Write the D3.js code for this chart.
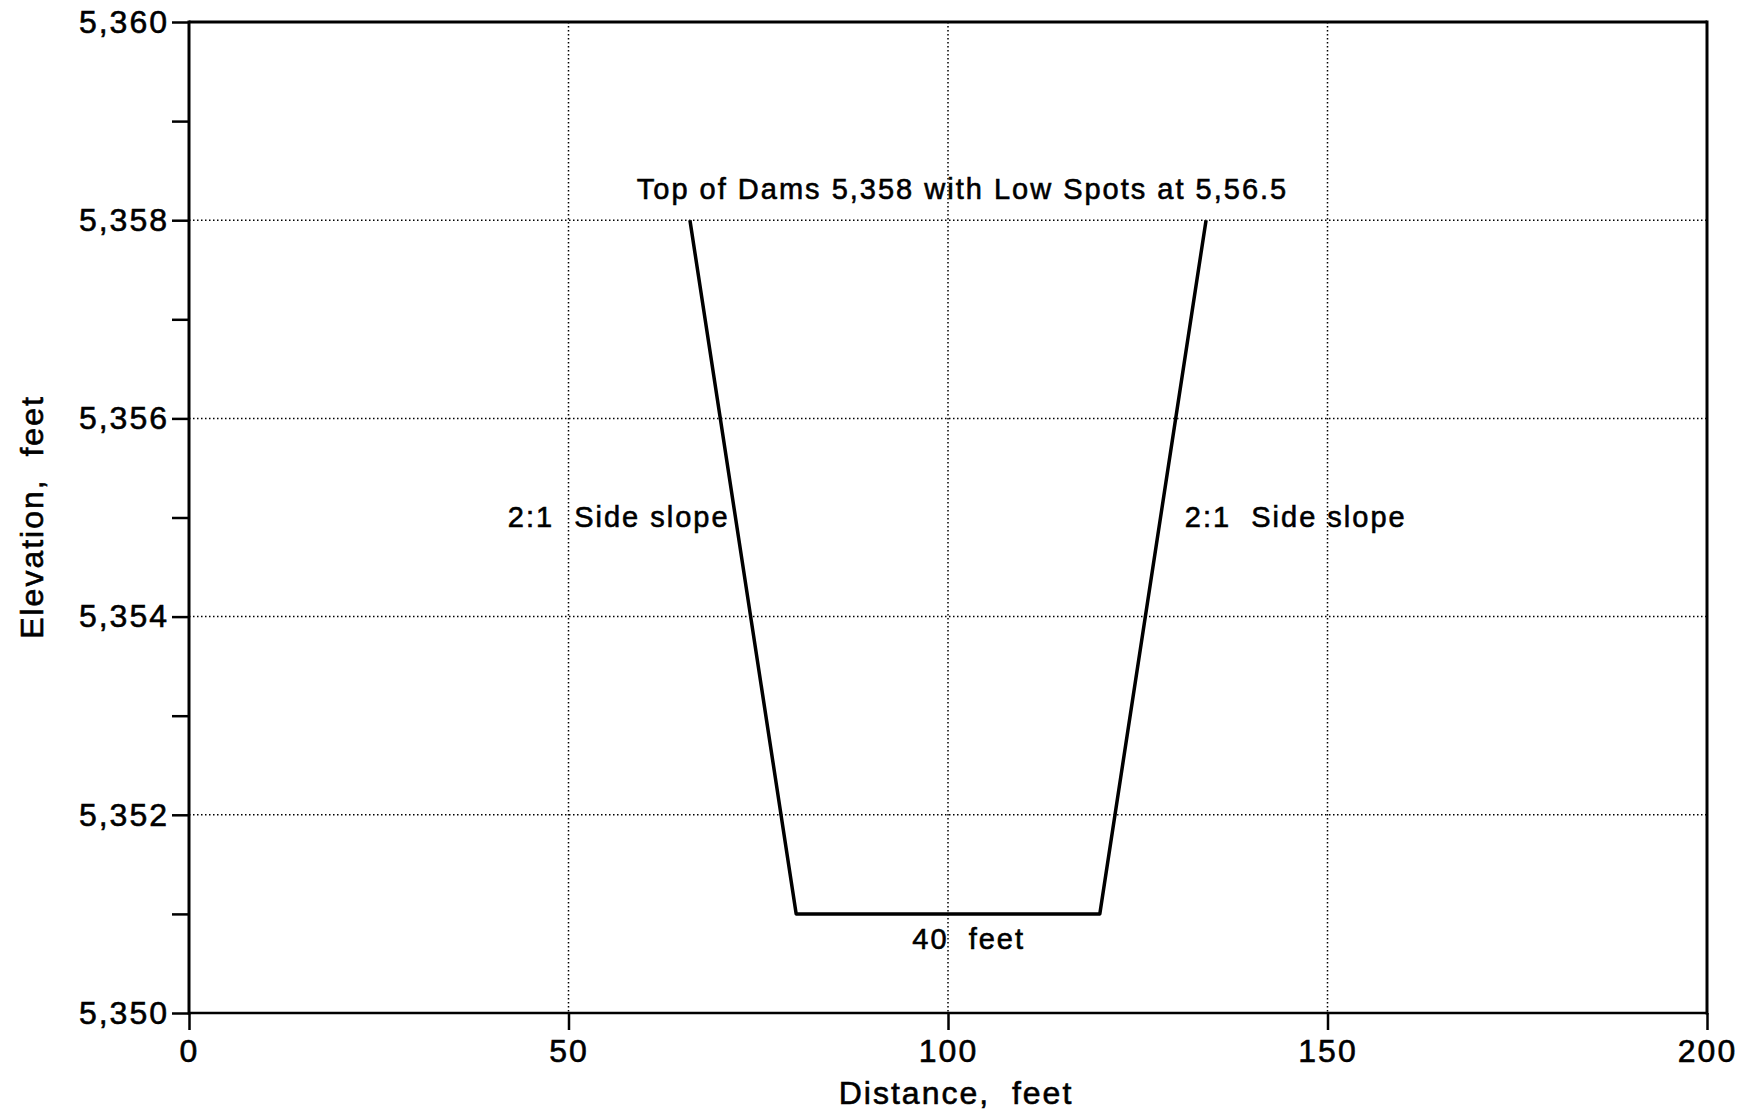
<!DOCTYPE html>
<html>
<head>
<meta charset="utf-8">
<script src="https://cdn.jsdelivr.net/npm/d3@7"></script>
<style>
  html, body { margin: 0; padding: 0; background: #fff; }
  svg text {
    font-family: "Liberation Sans", Arial, Helvetica, sans-serif;
    fill: #000;
    stroke: #000;
    stroke-width: 0.6px;
    white-space: pre;
    letter-spacing: 2px;
  }
</style>
</head>
<body>
<svg id="chart" width="1745" height="1113"></svg>
<script>
// Channel cross-section: distance across the channel vs. elevation
const distance = [66, 80, 120, 134];
const elevation = [5358, 5351, 5351, 5358];

// Axis ticks
const xTickValues = [0, 50, 100, 150, 200];
const yTickValues = [5350, 5351, 5352, 5353, 5354, 5355, 5356, 5357, 5358, 5359, 5360];
const yLabelled = [5350, 5352, 5354, 5356, 5358, 5360];
const xGridValues = [50, 100, 150];
const yGridValues = [5352, 5354, 5356, 5358];

// Callouts (anchored in data units)
const noteText = [
  "Top of Dams 5,358 with Low Spots at 5,56.5",
  "2:1  Side slope",
  "2:1  Side slope",
  "40  feet"
];
const noteX = [59, 42, 131.2, 95.3];
const noteY = [5358.21, 5354.9, 5354.9, 5350.65];

const svg = d3.select("#chart");
const margin = { left: 189, right: 1745 - 1707, top: 22, bottom: 1113 - 1013 };
const W = 1745, H = 1113;

const x = d3.scaleLinear().domain([0, 200]).range([margin.left, W - margin.right]);
const y = d3.scaleLinear().domain([5350, 5360]).range([H - margin.bottom, margin.top]);

// Dotted grid
const grid = svg.append("g").attr("stroke", "#000").attr("stroke-width", 1.5)
  .attr("stroke-dasharray", "1.5,2.5");
grid.selectAll("line.gx").data(xGridValues).join("line")
  .attr("x1", d => x(d)).attr("x2", d => x(d))
  .attr("y1", y(5360)).attr("y2", y(5350));
grid.selectAll("line.gy").data(yGridValues).join("line")
  .attr("x1", x(0)).attr("x2", x(200))
  .attr("y1", d => y(d)).attr("y2", d => y(d));

// Bottom axis
const xAxis = svg.append("g")
  .attr("transform", `translate(0,${y(5350)})`)
  .call(d3.axisBottom(x).tickValues(xTickValues).tickSize(17).tickPadding(9).tickFormat(d3.format("d")));
xAxis.select(".domain").remove();
xAxis.selectAll(".tick line").attr("stroke", "#000").attr("stroke-width", 2.5);
xAxis.selectAll(".tick text").attr("font-size", 32);

// Left axis
const yAxis = svg.append("g")
  .attr("transform", `translate(${x(0)},0)`)
  .call(d3.axisLeft(y).tickValues(yTickValues).tickSize(17).tickPadding(3)
    .tickFormat(d => yLabelled.includes(d) ? d3.format(",")(d) : ""));
yAxis.select(".domain").remove();
yAxis.selectAll(".tick line").attr("stroke", "#000").attr("stroke-width", 2.5);
yAxis.selectAll(".tick text").attr("font-size", 32);

// Plot frame
svg.append("line").attr("x1", x(0)).attr("x2", x(200)).attr("y1", y(5350)).attr("y2", y(5350))
  .attr("stroke", "#000").attr("stroke-width", 2.5);
svg.append("line").attr("x1", x(0)).attr("x2", x(200)).attr("y1", y(5360)).attr("y2", y(5360))
  .attr("stroke", "#000").attr("stroke-width", 3);
svg.append("line").attr("x1", x(0)).attr("x2", x(0)).attr("y1", y(5360) - 1.5).attr("y2", y(5350) + 1.5)
  .attr("stroke", "#000").attr("stroke-width", 3);
svg.append("line").attr("x1", x(200)).attr("x2", x(200)).attr("y1", y(5360) - 1.5).attr("y2", y(5350) + 1.5)
  .attr("stroke", "#000").attr("stroke-width", 3);

// Channel profile
const profile = distance.map((d, i) => [d, elevation[i]]);
svg.append("path")
  .datum(profile)
  .attr("fill", "none")
  .attr("stroke", "#000")
  .attr("stroke-width", 3.5)
  .attr("stroke-linejoin", "round")
  .attr("d", d3.line().x(d => x(d[0])).y(d => y(d[1])));

// Callouts
svg.selectAll("text.note").data(noteText).join("text")
  .attr("class", "note")
  .attr("x", (d, i) => x(noteX[i]))
  .attr("y", (d, i) => y(noteY[i]))
  .attr("font-size", 29)
  .text(d => d);

// Axis titles
svg.append("text")
  .attr("x", 956).attr("y", 1104)
  .attr("text-anchor", "middle")
  .attr("font-size", 32)
  .text("Distance,  feet");

svg.append("text")
  .attr("transform", "translate(43,517) rotate(-90)")
  .attr("text-anchor", "middle")
  .attr("font-size", 32)
  .text("Elevation,  feet");
</script>
</body>
</html>
